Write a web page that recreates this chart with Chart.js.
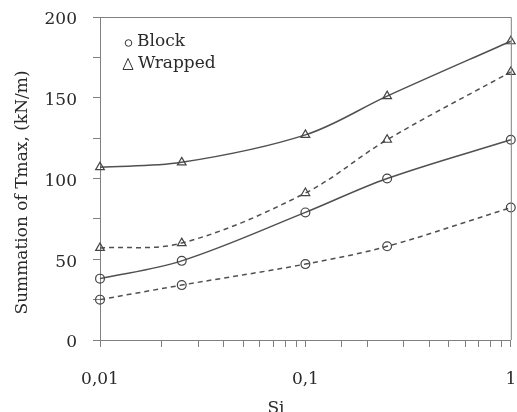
<!DOCTYPE html>
<html>
<head>
<meta charset="utf-8">
<script src="https://cdn.jsdelivr.net/npm/chart.js@4"></script>
<style>
html,body{margin:0;padding:0;background:#fff;}
#wrap{width:517px;height:412px;position:relative;}
</style>
</head>
<body>
<div id="wrap"><canvas id="c" width="517" height="412"></canvas></div>
<script>
const siValues = [0.01, 0.025, 0.1, 0.25, 1];
const wrappedSolid = [107, 110, 127, 151, 185];
const wrappedDashed = [57, 60, 91, 124, 166];
const blockSolid = [38, 49, 79, 100, 124];
const blockDashed = [25, 34, 47, 58, 82];
const xTickExponents = [-2, -1, 0];
const xTickLabels = ['0,01', '0,1', '1'];
const yTickLabels = [0, 50, 100, 150, 200];
const legendLabels = ['Block', 'Wrapped'];
const yTitle = 'Summation of Tmax, (kN/m)';
const xTitle = 'Si';

const FONT = '"DejaVu Serif", "Liberation Serif", serif';
const LINE = '#505050';
const TXT = '#2a2a2a';

function pts(vals){ return siValues.map((x,i)=>({x:x,y:vals[i]})); }
function ds(vals, dashed, style){
  return {
    data: pts(vals),
    borderColor: LINE,
    borderWidth: 1.5,
    borderDash: dashed ? [5,4] : [],
    tension: 0.35,
    pointStyle: style,
    pointRadius: style === 'triangle' ? 5 : 4.4,
    pointBorderColor: '#444',
    pointBorderWidth: 1.2,
    pointBackgroundColor: 'rgba(0,0,0,0)',
    fill: false,
    clip: false
  };
}
function noPad(s){ s.paddingLeft = 0; s.paddingRight = 0; s.paddingTop = 0; s.paddingBottom = 0; }

const decor = {
  id: 'decor',
  afterDraw(chart){
    const {ctx, chartArea:a} = chart;
    ctx.save();
    ctx.strokeStyle = '#808080';
    ctx.lineWidth = 1;
    ctx.beginPath();
    ctx.moveTo(a.left, a.top + 0.5);
    ctx.lineTo(a.right + 0.5, a.top + 0.5);
    ctx.lineTo(a.right + 0.5, a.bottom);
    ctx.stroke();
    // legend
    ctx.fillStyle = TXT;
    ctx.textBaseline = 'middle';
    ctx.textAlign = 'left';
    ctx.font = '17px ' + FONT;
    ctx.fillText(legendLabels[0], 137, 42);
    ctx.fillText(legendLabels[1], 138, 64);
    ctx.strokeStyle = '#333';
    ctx.lineWidth = 1;
    ctx.beginPath();
    ctx.arc(128.5, 43, 3.3, 0, Math.PI*2);
    ctx.stroke();
    ctx.beginPath();
    ctx.moveTo(128, 58.5);
    ctx.lineTo(133, 69.5);
    ctx.lineTo(123, 69.5);
    ctx.closePath();
    ctx.stroke();
    // axis titles
    ctx.font = '17px ' + FONT;
    ctx.textAlign = 'center';
    ctx.textBaseline = 'alphabetic';
    ctx.fillText(xTitle, 276, 413);
    ctx.translate(27, 192.5);
    ctx.rotate(-Math.PI/2);
    ctx.fillText(yTitle, 0, 0);
    ctx.restore();
  }
};

new Chart(document.getElementById('c'), {
  type: 'line',
  data: {
    datasets: [
      ds(wrappedSolid, false, 'triangle'),
      ds(wrappedDashed, true, 'triangle'),
      ds(blockSolid, false, 'circle'),
      ds(blockDashed, true, 'circle')
    ]
  },
  options: {
    responsive: false,
    animation: false,
    layout: { padding: { top: 17, right: 3, left: 0, bottom: 0 } },
    plugins: { legend: { display: false }, tooltip: { enabled: false } },
    scales: {
      x: {
        type: 'logarithmic',
        min: 0.01, max: 1,
        afterFit(s){ s.height = 72; noPad(s); },
        border: { color: '#808080', width: 1 },
        grid: { drawOnChartArea: false, drawTicks: true, tickLength: 7, color: '#808080' },
        ticks: {
          autoSkip: false, maxRotation: 0, padding: 22,
          color: TXT, font: { family: FONT, size: 17 },
          callback(v){
            const e = Math.log10(v);
            const r = Math.round(e);
            if (Math.abs(e - r) < 1e-6) {
              const i = xTickExponents.indexOf(r);
              return i >= 0 ? xTickLabels[i] : '';
            }
            return '';
          }
        }
      },
      y: {
        min: 0, max: 200,
        afterFit(s){ s.width = 100; noPad(s); },
        border: { color: '#808080', width: 1 },
        grid: { drawOnChartArea: false, drawTicks: true, tickLength: 7, color: '#808080' },
        ticks: {
          stepSize: 25, padding: 16, labelOffset: 3,
          color: TXT, font: { family: FONT, size: 17 },
          callback(v){ return yTickLabels.includes(v) ? String(v) : ''; }
        }
      }
    }
  },
  plugins: [decor]
});
</script>
</body>
</html>
